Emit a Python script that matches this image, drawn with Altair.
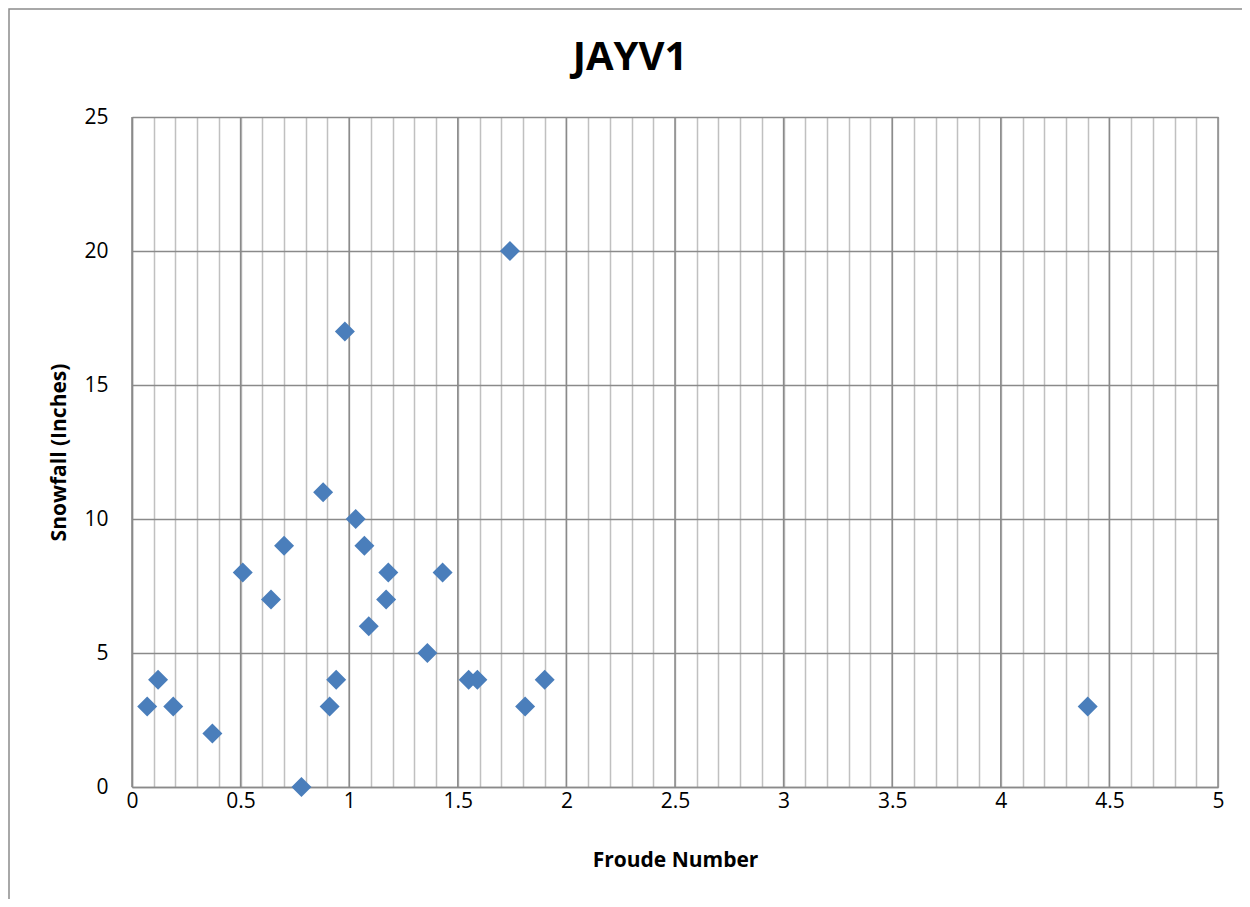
import altair as alt
import pandas as pd

froude = [0.07, 0.12, 0.19, 0.37, 0.51, 0.64, 0.70, 0.78, 0.88, 0.91, 0.94, 0.98,
          1.03, 1.07, 1.09, 1.17, 1.18, 1.36, 1.43, 1.55, 1.59, 1.74, 1.81, 1.90, 4.40]
snow = [3, 4, 3, 2, 8, 7, 9, 0, 11, 3, 4, 17,
        10, 9, 6, 7, 8, 5, 8, 4, 4, 20, 3, 4, 3]
x_minor = [round(i * 0.1, 1) for i in range(0, 51)]
x_major = [0, 0.5, 1, 1.5, 2, 2.5, 3, 3.5, 4, 4.5, 5]
y_ticks = [0, 5, 10, 15, 20, 25]
title_text = ["JAYV1"]

FONT = "Open Sans"
W, H = 1086, 670

df = pd.DataFrame({"froude": froude, "snow": snow})
major_df = pd.DataFrame({"froude": x_major})

xscale = alt.Scale(domain=[0, 5], nice=False, zero=False)
yscale = alt.Scale(domain=[0, 25], nice=False)

xaxis = alt.Axis(values=x_minor, grid=True, gridColor="#c0c0c0", gridWidth=1.5,
                 ticks=False, domain=True, domainColor="#8a8a8a", domainWidth=1.5,
                 labelExpr="abs(datum.value*2 - round(datum.value*2)) < 0.001 ? format(datum.value, '~g') : ''",
                 labelFontSize=21, labelColor="#000000", labelFont=FONT,
                 labelPadding=3, labelFlush=False, labelOverlap=False,
                 titleFont=FONT, titleFontSize=21, titleFontWeight="bold",
                 titleColor="#000000", titlePadding=38)

border = alt.Chart(pd.DataFrame({"a": [0]})).mark_rect(
    fill=None, stroke="#8c8c8c", strokeWidth=1.5, clip=False
).encode(
    x=alt.value(-123), x2=alt.value(W + 300),
    y=alt.value(-108), y2=alt.value(H + 300),
)

title = alt.Chart(pd.DataFrame({"t": title_text})).mark_text(
    font=FONT, fontSize=40, fontWeight="bold", color="#000000",
    align="center", baseline="middle", clip=False
).encode(text="t:N", x=alt.value(498), y=alt.value(-59))

major = alt.Chart(major_df).mark_rule(color="#8a8a8a", strokeWidth=1.5).encode(
    x=alt.X("froude:Q", scale=xscale, title="Froude Number", axis=xaxis)
)

points = alt.Chart(df).mark_point(
    shape="diamond", filled=True, color="#4A7EBB", size=400, opacity=1
).encode(
    x=alt.X("froude:Q", scale=xscale, title="Froude Number", axis=xaxis),
    y=alt.Y("snow:Q", scale=yscale, title="Snowfall (Inches)",
            axis=alt.Axis(values=y_ticks, grid=True, gridColor="#8a8a8a", gridWidth=1.5,
                          ticks=False, domain=True, domainColor="#8a8a8a", domainWidth=1.5,
                          labelFontSize=21, labelColor="#000000", labelFont=FONT,
                          labelPadding=24,
                          titleFont=FONT, titleFontSize=21, titleFontWeight="bold",
                          titleColor="#000000", titlePadding=14)),
)

chart = alt.layer(border, title, major, points).properties(
    width=W, height=H,
    autosize=alt.AutoSizeParams(type="none"),
    padding={"left": 124, "top": 109, "right": 24, "bottom": 112},
).configure_view(stroke=None).configure(background="#ffffff")

chart.save("out.html", embed_options={"renderer": "svg", "actions": False})
